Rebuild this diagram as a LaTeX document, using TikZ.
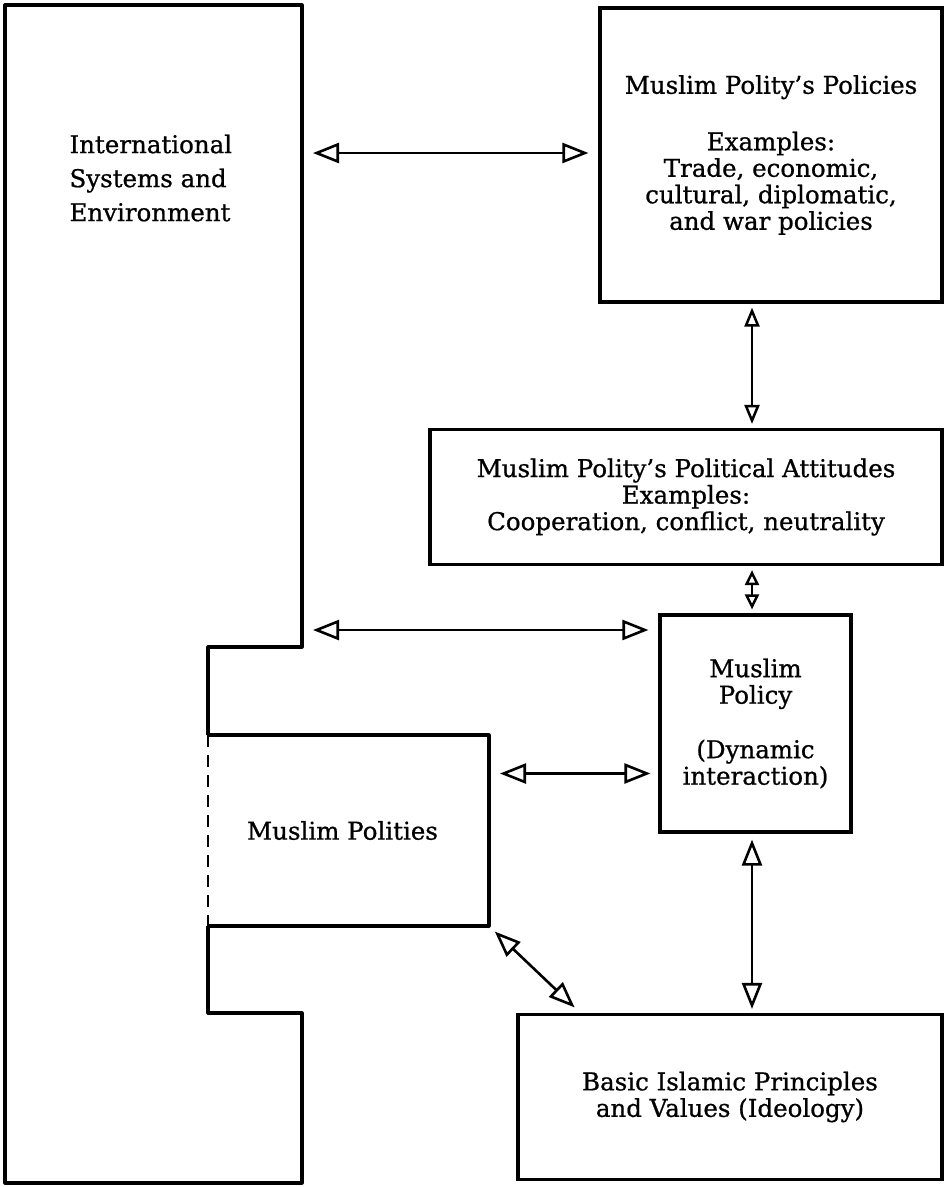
\documentclass[tikz,border=0pt]{standalone}
\usepackage{fontspec}
\setmainfont{DejaVu Serif}[FakeBold=0.8]
\usetikzlibrary{arrows.meta,positioning}

\begin{document}
\begin{tikzpicture}[
    x=1pt,
    y=-1pt,
    every node/.style={
      font=\fontsize{24.5}{26.5}\selectfont
    },
    box/.style={
      draw,
      line width=3.2pt,
      align=center,
      inner sep=0pt},
    outline/.style={
      line width=3.2pt,
      line join=round},
    link/.style={
      line width=2.6pt,
      {Triangle[open,length=26pt,width=20pt]}-{Triangle[open,length=26pt,width=20pt]}},
    shortlink/.style={
      line width=2.5pt,
      {Triangle[open,length=19pt,width=15pt]}-{Triangle[open,length=19pt,width=15pt]}},
    tinylink/.style={
      line width=2.5pt,
      {Triangle[open,length=15pt,width=14pt]}-{Triangle[open,length=15pt,width=14pt]}},
  ]
  \useasboundingbox (0,0) rectangle (946,1187);

  \node[
    box,
    minimum width=342pt,
    minimum height=294pt,
  ] (policies) at (771,155) {Muslim Polity’s Policies\\[30pt]Examples:\\Trade, economic,\\cultural, diplomatic,\\and war policies};
  \node[
    box,
    minimum width=512pt,
    minimum height=135pt,
  ] (attitudes) at (686,497) {Muslim Polity’s Political Attitudes\\Examples:\\Cooperation, conflict, neutrality};
  \node[
    box,
    minimum width=191pt,
    minimum height=217pt,
  ] (policy) at (755.5,723.5) {Muslim\\Policy\\[28pt](Dynamic\\interaction)};
  \node[
    box,
    minimum width=424pt,
    minimum height=165pt,
  ] (basic) at (730,1097) {Basic Islamic Principles\\and Values (Ideology)};
  \node[
    minimum width=281pt,
    minimum height=191pt,
    inner sep=0pt,
    outer sep=0pt,
  ] (polities) at (348.5,830.5) {Muslim Polities\hspace*{12pt}};
  \node[
    anchor=west,
    align=left,
    font=\fontsize{24.5}{34}\selectfont,
  ] (env) at (66,178) {International\\Systems and\\Environment};

  \draw[outline] (polities.north west) -- (208,647) -- (302,647) -- (302,5) -- (5,5) -- (5,1183)
    -- (302,1183) -- (302,1013) -- (208,1013) -- (polities.south west);
  \draw[outline] (polities.north west) -- (polities.north east) -- (polities.south east) -- (polities.south west);
  \draw[line width=2.2pt, dash pattern=on 12pt off 8pt] (polities.north west) -- (polities.south west);

  \coordinate (env-top) at (302,153);
  \coordinate (env-mid) at (302,630);
  \draw[link, shorten <=11pt, shorten >=10pt] (env-top) -- (env-top -| policies.west);
  \draw[link, shorten <=11pt, shorten >=10pt] (env-mid) -- (env-mid -| policy.west);
  \draw[link, shorten <=11pt, shorten >=8pt] ([yshift=57pt]polities.east) -- ([yshift=57pt]polities.east -| policy.west);
  \draw[shortlink, shorten <=4pt, shorten >=4pt] (policies.south -| 752,0) -- (attitudes.north -| 752,0);
  \draw[tinylink, shorten <=4pt, shorten >=4pt] (attitudes.south -| 752,0) -- (policy.north -| 752,0);
  \draw[link, shorten <=6pt, shorten >=4pt] (policy.south -| 752,0) -- (basic.north -| 752,0);
  \draw[link, shorten <=8pt, shorten >=8pt] (polities.south east) -- ([xshift=64pt]basic.north west);
\end{tikzpicture}
\end{document}
